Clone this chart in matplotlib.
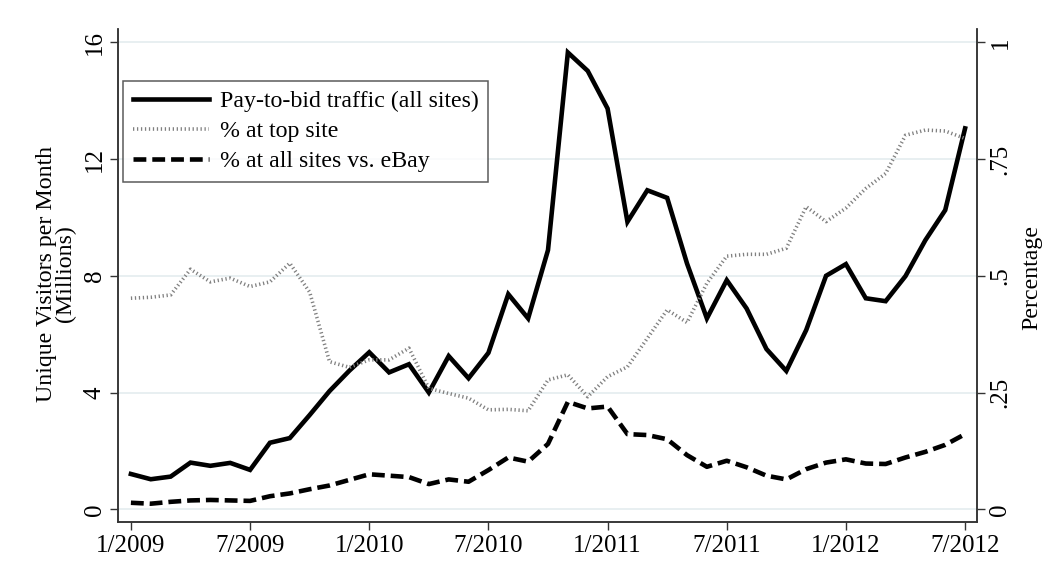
import matplotlib
matplotlib.use("Agg")
import matplotlib.pyplot as plt
import numpy as np

# Months from 1/2009 to 7/2012 (index 0..42)
months = list(range(43))
xtick_pos = [0, 6, 12, 18, 24, 30, 36, 42]
xtick_labels = ["1/2009", "7/2009", "1/2010", "7/2010", "1/2011", "7/2011", "1/2012", "7/2012"]

traffic = [1.21, 1.03, 1.12, 1.60, 1.49, 1.59, 1.35, 2.28, 2.44, 3.23, 4.05, 4.75,
           5.38, 4.69, 4.97, 4.00, 5.25, 4.49, 5.36, 7.37, 6.54, 8.88, 15.65, 15.02,
           13.73, 9.85, 10.93, 10.67, 8.42, 6.54, 7.85, 6.88, 5.49, 4.74, 6.14, 8.00,
           8.40, 7.23, 7.13, 7.99, 9.22, 10.25, 13.05]

top_site = [0.452, 0.454, 0.459, 0.514, 0.487, 0.495, 0.477, 0.487, 0.527, 0.465, 0.316, 0.304,
            0.320, 0.320, 0.345, 0.259, 0.248, 0.238, 0.213, 0.214, 0.211, 0.277, 0.288, 0.241,
            0.284, 0.305, 0.366, 0.427, 0.400, 0.484, 0.542, 0.546, 0.546, 0.559, 0.648, 0.616,
            0.645, 0.687, 0.719, 0.801, 0.812, 0.810, 0.794]

vs_ebay = [0.014, 0.012, 0.016, 0.019, 0.020, 0.019, 0.018, 0.028, 0.034, 0.043, 0.051, 0.063,
           0.075, 0.072, 0.069, 0.054, 0.064, 0.059, 0.084, 0.111, 0.102, 0.140, 0.230, 0.216,
           0.220, 0.161, 0.159, 0.150, 0.116, 0.091, 0.104, 0.090, 0.072, 0.064, 0.086, 0.100,
           0.107, 0.098, 0.097, 0.111, 0.123, 0.138, 0.161]

left_ticks = [0, 4, 8, 12, 16]
right_ticks = [0, 0.25, 0.5, 0.75, 1]
right_labels = ["0", ".25", ".5", ".75", "1"]

plt.rcParams['font.family'] = ['Liberation Serif', 'DejaVu Serif']
FS_TICK = 18
FS = 17.2

W, H = 1048, 579
fig = plt.figure(figsize=(W / 100, H / 100), dpi=100)
ax = fig.add_axes([118 / W, 1 - 522 / H, (977 - 118) / W, (522 - 29) / H])
ax2 = ax.twinx()

ylo, yhi = -0.435, 16.455
ax.set_ylim(ylo, yhi)
ax2.set_ylim(ylo / 16, yhi / 16)
ax.set_xlim(-0.65, 42.6)

for v in left_ticks:
    ax.axhline(v, color='#e6eef0', lw=1.3, zorder=0)

l1, = ax.plot(months, traffic, color='black', lw=3.3, solid_joinstyle='miter', zorder=3,
              label='Pay-to-bid traffic (all sites)')
l2, = ax2.plot(months, top_site, color='#808080', lw=2.6, linestyle=(0, (0.35, 0.75)),
               dash_capstyle='butt', zorder=2, label='% at top site')
l3, = ax2.plot(months, vs_ebay, color='black', lw=3.3, linestyle=(0, (2.8, 1.3)),
               dash_capstyle='butt', zorder=2, label='% at all sites vs. eBay')

ax.set_xticks(xtick_pos)
ax.set_xticklabels(xtick_labels, fontsize=FS_TICK)
ax.set_yticks(left_ticks)
ax.set_yticklabels([str(v) for v in left_ticks], fontsize=FS_TICK, rotation=90, va='center')
ax2.set_yticks(right_ticks)
ax2.set_yticklabels(right_labels, fontsize=FS_TICK, rotation=90, va='center')

for a in (ax, ax2):
    a.spines['top'].set_visible(False)
    for s in ('left', 'right', 'bottom'):
        a.spines[s].set_color('#333333')
        a.spines[s].set_linewidth(1.1)
    a.tick_params(direction='out', length=6, width=1.0, color='#333333', pad=3)
ax.patch.set_visible(False)

fig.text(56 / W, 1 - 274 / H, "Unique Visitors per Month\n(Millions)", rotation=90,
         ha='center', va='center', fontsize=FS, multialignment='center', linespacing=0.9)
fig.text(1032 / W, 1 - 277 / H, "Percentage", rotation=90, ha='center', va='center', fontsize=FS)

leg = ax2.legend(handles=[l1, l2, l3], loc='upper left',
                 bbox_to_anchor=(123 / W, 1 - 81 / H), bbox_transform=fig.transFigure,
                 borderaxespad=0, fontsize=FS, frameon=True, fancybox=False,
                 handlelength=3.2, handletextpad=0.46, labelspacing=0.35, borderpad=0.4)
leg.get_frame().set_edgecolor('#333333')
leg.get_frame().set_linewidth(1.1)

fig.savefig("out.png", dpi=100)
